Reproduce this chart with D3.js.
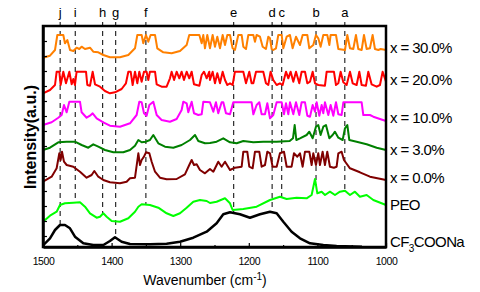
<!DOCTYPE html>
<html>
<head>
<meta charset="utf-8">
<script src="https://cdn.jsdelivr.net/npm/d3@7/dist/d3.min.js"></script>
<style>
  body { margin: 0; background: #fff; }
  svg { display: block; font-family: "Liberation Sans", Arial, sans-serif; }
</style>
</head>
<body>
<script>
// spectra as [wavenumber (cm-1), intensity (a.u., stacked offset)]
const x30 = [[1500,189.3],[1489.8,191.3],[1482.5,197],[1479.1,212],[1470.4,212],[1468,203.7],[1464.5,207],[1460.6,197],[1455.8,196],[1451,199.3],[1447.1,198],[1443.7,200.3],[1438.8,198],[1431.5,199.3],[1426.7,195.3],[1419.4,194.7],[1412.1,192],[1402.4,189.7],[1387.8,189.7],[1375.6,192],[1365.9,198.7],[1362.5,212],[1356.2,212],[1353.8,203.7],[1349.9,212],[1346.5,205.3],[1343.1,212],[1336.7,212],[1333.4,198.7],[1324.6,194.7],[1312.5,193.7],[1300.3,196],[1290.6,202],[1286.8,212],[1272.1,212],[1268.7,203.7],[1266.3,212],[1263.9,198.7],[1260.5,212],[1256.6,198.7],[1252.7,212],[1249.3,200.3],[1245.9,210.3],[1242,198.7],[1238.1,212],[1234.7,202],[1231.3,212],[1227.4,212],[1223.6,198.7],[1220.2,197],[1215.3,212],[1210.4,212],[1208,200.3],[1204.1,198],[1200.7,212],[1193.4,212],[1191,205.3],[1188.6,212],[1183.7,210.3],[1179.8,200.3],[1175,198],[1171.6,210.3],[1169.1,208.7],[1166.7,198],[1164.3,197],[1160.4,198.7],[1157,212],[1152.1,212],[1149.7,198.7],[1144.8,210.3],[1140,212],[1136.1,198.7],[1131.2,210.3],[1125.4,202],[1121.5,212],[1114.7,212],[1111.8,198.7],[1106,202],[1102.1,212],[1098.7,208.7],[1095.3,200.3],[1091.4,212],[1085.6,212],[1082.6,202],[1080.7,212],[1072.9,212],[1069.5,198],[1059.8,197],[1056.4,212],[1052.5,198.7],[1047.7,198],[1043.8,212],[1040.4,198],[1035.5,197],[1032.1,212],[1028.2,198],[1023.4,198.7],[1019.5,212],[1016.1,198],[1011.2,197],[1007.8,198],[1000,197]];

const x20 = [[1500,153.7],[1489.8,157],[1482.5,162],[1480.1,175.3],[1476.2,175.3],[1474.3,162],[1470.4,175.3],[1466.5,163.7],[1461.6,175.3],[1458.2,162.7],[1455.8,168],[1453.4,162],[1451,175.3],[1437.3,175.3],[1435.4,162],[1431.5,161.3],[1427.6,175.3],[1424.2,162.7],[1416.9,160.3],[1409.7,156],[1402.4,153.7],[1395.1,154.7],[1385.4,158],[1379.1,163.7],[1375.6,175.3],[1372.2,175.3],[1369.3,162],[1365.9,175.3],[1362.5,163.7],[1359.6,175.3],[1356.2,165.3],[1352.8,175.3],[1349,175.3],[1346.5,167],[1344.1,175.3],[1336.7,175.3],[1334.3,162.7],[1327.1,160.3],[1319.8,160.3],[1314.9,168.7],[1312.5,175.3],[1308.9,167],[1305.2,175.3],[1301.3,168.7],[1297.9,175.3],[1294.5,167],[1290.6,175.3],[1286.8,168.7],[1283.3,175.3],[1279.9,162.7],[1272.1,161.3],[1268.7,172],[1265.3,175.3],[1261.4,168.7],[1257.6,175.3],[1256.6,167],[1252.7,175.3],[1249.3,163.7],[1245.9,173.7],[1242,163.7],[1238.1,175.3],[1234.7,167],[1231.3,162],[1227.4,163.7],[1223.6,162],[1220.2,175.3],[1208,175.3],[1204.1,163.7],[1199.3,175.3],[1195.9,163.7],[1193.4,163.7],[1189.5,175.3],[1178.9,175.3],[1175,163.7],[1171.6,162],[1168.2,175.3],[1164.3,167],[1159.4,162],[1154.6,163.7],[1150.7,162],[1145.8,175.3],[1142.4,168.7],[1139,175.3],[1135.1,165.3],[1131.2,175.3],[1126.4,163.7],[1123,175.3],[1118.1,175.3],[1114.7,163.7],[1110.8,165.3],[1106.9,175.3],[1103.5,163.7],[1098.7,162],[1089,161.3],[1086.5,175.3],[1075.9,175.3],[1072.9,162],[1069.5,163.7],[1066.1,175.3],[1062.2,164.7],[1057.4,162],[1052.5,175.3],[1048.6,163.7],[1042.8,162],[1038.9,175.3],[1035.5,162],[1029.2,161.3],[1025.8,175.3],[1021,162.7],[1013.6,160.3],[1008.8,162],[1004.9,175.3],[1000,165.3]];

const x10 = [[1500,122],[1487.4,124.7],[1477.7,129.3],[1472.8,132],[1469.4,142],[1465.5,134.7],[1461.6,145.3],[1446.1,145.3],[1443.7,134.7],[1436.4,129.3],[1431.5,131.3],[1427.6,133.7],[1421.8,128.7],[1412.1,124.7],[1402.4,121.3],[1387.8,120.3],[1373.2,123.7],[1363.5,132],[1359.6,145.3],[1356.2,144.7],[1352.8,133.7],[1349,131.3],[1345,142],[1339.2,145.3],[1334.3,132],[1327.1,127],[1314.9,125.3],[1305.2,128],[1297.9,137],[1295.5,145.3],[1290.6,143.7],[1288.2,134.7],[1283.3,145.3],[1279.9,133.7],[1273.6,132],[1268.7,132.7],[1266.3,145.3],[1256.6,144.7],[1251.7,135.3],[1247.9,144.7],[1244.5,133.7],[1239.6,144.7],[1237.2,144.7],[1233.3,133.7],[1227.4,132.7],[1222.6,144.7],[1195.9,144.7],[1193.4,132.7],[1188.6,142],[1184.7,144.7],[1181.3,132.7],[1176.4,132.7],[1173,143.7],[1169.1,128.7],[1164.3,132],[1159.4,144.7],[1152.1,144.7],[1148.7,132.7],[1145.8,143.7],[1142.4,132.7],[1140,144.7],[1135.1,132.7],[1131.2,144.7],[1126.4,132],[1123,144.7],[1118.1,144.7],[1114.7,131.3],[1110.8,130.3],[1106.9,142],[1103.5,135.3],[1101.1,144.7],[1097.2,131.3],[1093.8,142],[1091.4,133.7],[1089,144.7],[1084.1,132],[1080.7,142],[1076.8,131.3],[1072.9,144.7],[1069.5,132.7],[1064.7,132],[1062.2,144.7],[1035.5,144.7],[1033.1,132],[1023.4,132],[1018.5,130.3],[1008.8,128],[1000,126]];

const x03 = [[1500,97],[1489.8,99.3],[1477.7,104.7],[1465.5,105.3],[1453.4,105.3],[1443.7,102],[1434,99.3],[1426.7,102.7],[1419.4,100.3],[1409.7,97],[1397.5,94.7],[1382.9,94.7],[1373.2,97],[1365.9,101.3],[1361,107],[1356.2,104.7],[1349.9,105.3],[1344.1,107],[1339.2,112],[1331.9,103.7],[1322.2,100.3],[1310,99.3],[1297.9,102],[1285.7,107],[1278.4,112],[1273.6,106],[1263.9,103.7],[1256.6,104],[1246.9,105.3],[1237.2,108.7],[1227.4,104.7],[1217.7,103.7],[1208,106],[1193.4,104.7],[1178.9,105.3],[1159.4,105.3],[1140.4,106],[1135.6,108.7],[1133.1,122],[1130.7,107],[1125.4,108.7],[1115.7,112],[1111.8,115.3],[1106.9,108.7],[1102.1,120.3],[1098.7,122],[1095.3,112],[1091.4,120.3],[1087.5,122],[1082.6,108.7],[1077.8,112],[1074.4,115.3],[1069.5,109.3],[1063.2,107],[1059.8,118.7],[1056.4,122],[1053.5,107],[1042.8,105.3],[1028.2,102.7],[1013.6,99.3],[1000,97]];

const x00 = [[1500,65.3],[1487.4,70.3],[1480.1,78.7],[1476.2,93.7],[1474.3,87],[1472.3,95.3],[1469.4,85.3],[1465.5,82],[1455.8,80.3],[1446.1,75.3],[1436.4,69.3],[1429.1,72],[1425.2,76],[1419.4,70.3],[1412.1,67],[1402.4,64.7],[1387.8,63.7],[1378.1,65.3],[1373.2,68.7],[1365.9,69.3],[1361,93.7],[1358.6,82],[1356.2,87],[1352.8,90.3],[1349.9,94.7],[1345,93.7],[1341.6,85.3],[1336.7,75.3],[1329.5,69.3],[1319.8,67.7],[1305.2,68],[1293.1,72.7],[1286.8,82],[1283.3,87],[1279.9,82],[1276,82.7],[1271.2,77],[1263.9,73.7],[1256.6,78],[1251.7,75.3],[1244.5,85.3],[1239.6,80.3],[1234.7,85.3],[1227.4,77],[1220.2,79.3],[1210.4,80.3],[1208,95.3],[1202.2,95.3],[1199.3,80.3],[1194.4,78.7],[1191,95.3],[1184.7,95.3],[1181.3,80.3],[1176.4,82],[1173,95.3],[1169.1,93.7],[1165.3,80.3],[1159.4,80.3],[1154.6,93.7],[1148.7,95.3],[1144.8,80.3],[1137.6,80.3],[1134.2,93.7],[1129.3,90.3],[1125.4,93.7],[1121.5,80.3],[1118.1,95.3],[1111.8,95.3],[1108.4,82],[1106,93.7],[1102.1,82],[1098.7,93.7],[1096.3,82],[1092.4,95.3],[1089,82],[1085.6,95.3],[1081.7,80.3],[1075.9,79.3],[1072,80.3],[1069.5,93.7],[1064.7,95.3],[1061.3,87],[1052.5,78.7],[1038,74.7],[1023.4,70.3],[1000,67]];

const peo = [[1500,25.3],[1489.8,31.3],[1480.1,35.3],[1475.2,42],[1468,43.7],[1455.8,44.3],[1446.1,44.7],[1438.8,40.3],[1431.5,33.7],[1421.8,29.3],[1416.9,30.3],[1412.1,33.7],[1407.2,30.3],[1399.9,26],[1387.8,25.3],[1375.6,28.7],[1365.9,35.3],[1361,40.3],[1356.2,42.7],[1344.1,42],[1331.9,39.3],[1319.8,33.7],[1310,31],[1300.3,33.7],[1290.6,39.3],[1280.9,45.3],[1271.2,47],[1261.4,46],[1256.6,44],[1246.9,45.3],[1234.7,48.7],[1227.4,43.7],[1223.6,37],[1208,38],[1188.6,40.3],[1169.1,47],[1154.6,50.3],[1144.8,48],[1130.3,49.3],[1115.7,48.7],[1108.4,52],[1103.5,68],[1100.1,53.7],[1093.8,55.3],[1088.9,52],[1081.7,55.3],[1074.4,52],[1067.1,55.3],[1059.8,56.3],[1052.5,52],[1045.3,55.3],[1038,50.3],[1028.2,52],[1018.5,47],[1000,42]];

const cf3cooNa = [[1500,1.5],[1489.8,8.7],[1482.5,17],[1475.2,22],[1468,22],[1460.7,18.7],[1453.4,10.3],[1441.2,3.7],[1426.7,2],[1412,2],[1402.4,6],[1395.1,9.7],[1385.4,5.3],[1373.2,3],[1344,2.7],[1319.8,3.3],[1300.3,5.3],[1280.9,9.3],[1261.4,15.3],[1246.9,23.7],[1237.2,32.7],[1227.4,34.7],[1212.9,32.7],[1198.3,29.3],[1183.7,32.7],[1169.1,35.3],[1159.4,33.7],[1149.7,25.3],[1137.6,15.3],[1125.4,8.7],[1110.8,3.7],[1091.4,2],[1072,1],[1035,0.3]];

const seriesNames = ['x = 30.0%', 'x = 20.0%', 'x = 10.0%', 'x = 3.0%', 'x = 0.0%', 'PEO', 'CF3COONa'];

// band markers
const markerNames = ['j', 'i', 'h', 'g', 'f', 'e', 'd', 'c', 'b', 'a'];
const markerWn = [1475, 1453, 1413, 1394, 1350, 1222, 1166, 1152, 1102, 1060];
const markerStop = ['CF3COONa', 'PEO', 'PEO', 'CF3COONa', 'PEO', 'CF3COONa', 'CF3COONa', 'PEO', 'PEO', 'PEO'];

const xTicks = [1500, 1400, 1300, 1200, 1100, 1000];
const xMinorTicks = [1450, 1350, 1250, 1150, 1050];

// --- SVG Setup ---
const W = 480, H = 292;
const margin = { top: 26, right: 94, bottom: 45, left: 43 };
const width = W - margin.left - margin.right, height = H - margin.top - margin.bottom;

const svg = d3.select("body").append("svg")
    .attr("width", W)
    .attr("height", H);
const g = svg.append("g")
    .attr("transform", `translate(${margin.left}, ${margin.top})`);

const x = d3.scaleLinear().domain([1500, 1000]).range([0, width]);
const y = d3.scaleLinear().domain([0, height]).range([height, 0]);

const series = [x30, x20, x10, x03, x00, peo, cf3cooNa];
const colors = ['#ff8000', '#ff0000', '#ff00ff', '#008000', '#800000', '#00ff00', '#000000'];
const byName = {};
seriesNames.forEach((n, i) => byName[n] = series[i]);

function valueAt(data, wn) {
    for (let k = 0; k < data.length - 1; k++) {
        const a = data[k], b = data[k + 1];
        if (wn <= a[0] && wn >= b[0]) {
            return a[1] + (b[1] - a[1]) * (a[0] - wn) / (a[0] - b[0]);
        }
    }
    return data[data.length - 1][1];
}

// dashed band lines
g.selectAll(".band")
    .data(markerNames)
    .enter().append("line")
    .attr("class", "band")
    .attr("x1", (d, i) => x(markerWn[i]))
    .attr("x2", (d, i) => x(markerWn[i]))
    .attr("y1", -4)
    .attr("y2", (d, i) => y(valueAt(byName[markerStop[i]], markerWn[i])))
    .attr("stroke", "#000")
    .attr("stroke-width", 1)
    .attr("stroke-dasharray", "5,4");

g.selectAll(".band-label")
    .data(markerNames)
    .enter().append("text")
    .attr("class", "band-label")
    .attr("x", (d, i) => x(markerWn[i]))
    .attr("y", -9)
    .attr("text-anchor", "middle")
    .style("font-size", "13px")
    .text(d => d);

// spectra
const line = d3.line().x(d => x(d[0])).y(d => y(d[1]));
g.selectAll(".spectrum")
    .data(series)
    .enter().append("path")
    .attr("class", "spectrum")
    .attr("d", line)
    .attr("fill", "none")
    .attr("stroke", (d, i) => colors[i])
    .attr("stroke-width", (d, i) => i === 6 ? 2.5 : 2)
    .attr("stroke-linejoin", "round");

// Axes
const xAxis = g.append("g")
    .attr("transform", `translate(0, ${height})`)
    .call(d3.axisBottom(x).tickValues(xTicks).tickSizeInner(-4).tickSizeOuter(0).tickPadding(11).tickFormat(d3.format("d")));
xAxis.selectAll("text")
    .style("font-size", "10.5px")
    .style("letter-spacing", "-0.4px")
    .attr("fill", "#000");

g.append("g")
    .attr("transform", `translate(0, ${height})`)
    .call(d3.axisBottom(x).tickValues(xMinorTicks).tickSizeInner(-2).tickSizeOuter(0).tickFormat(""))
    .select(".domain").remove();

g.append("g")
    .call(d3.axisLeft(y).tickValues(d3.range(11, height, 15)).tickSizeInner(-4).tickSizeOuter(0).tickFormat(""));

g.selectAll(".tick line").attr("stroke", "#000").attr("stroke-width", 1.2);

// frame
g.append("rect")
    .attr("width", width)
    .attr("height", height)
    .attr("fill", "none")
    .attr("stroke", "#000")
    .attr("stroke-width", 2.5);
g.selectAll(".domain").attr("stroke-width", 2.5);

// series labels
const labelY = [53, 85, 122.5, 155, 183, 210, 247];
seriesNames.forEach((name, i) => {
    const t = svg.append("text")
        .attr("x", 390)
        .attr("y", labelY[i])
        .style("font-size", "15px")
        .style("letter-spacing", "-0.6px");
    if (name === 'CF3COONa') {
        t.append("tspan").text("CF");
        t.append("tspan").attr("dy", 5).style("font-size", "10px").text("3");
        t.append("tspan").attr("dy", -5).text("COONa");
    } else {
        t.text(name);
    }
});

// Axis Labels
const xl = svg.append("text")
    .attr("x", 205)
    .attr("y", 285)
    .attr("text-anchor", "middle")
    .style("font-size", "14px");
xl.append("tspan").text("Wavenumber (cm");
xl.append("tspan").attr("dy", -5).style("font-size", "10px").text("-1");
xl.append("tspan").attr("dy", 5).text(")");

svg.append("text")
    .attr("transform", "rotate(-90)")
    .attr("x", -137)
    .attr("y", 36)
    .attr("text-anchor", "middle")
    .style("font-size", "16px")
    .style("font-weight", "bold")
    .text("Intensity(a.u.)");
</script>
</body>
</html>
